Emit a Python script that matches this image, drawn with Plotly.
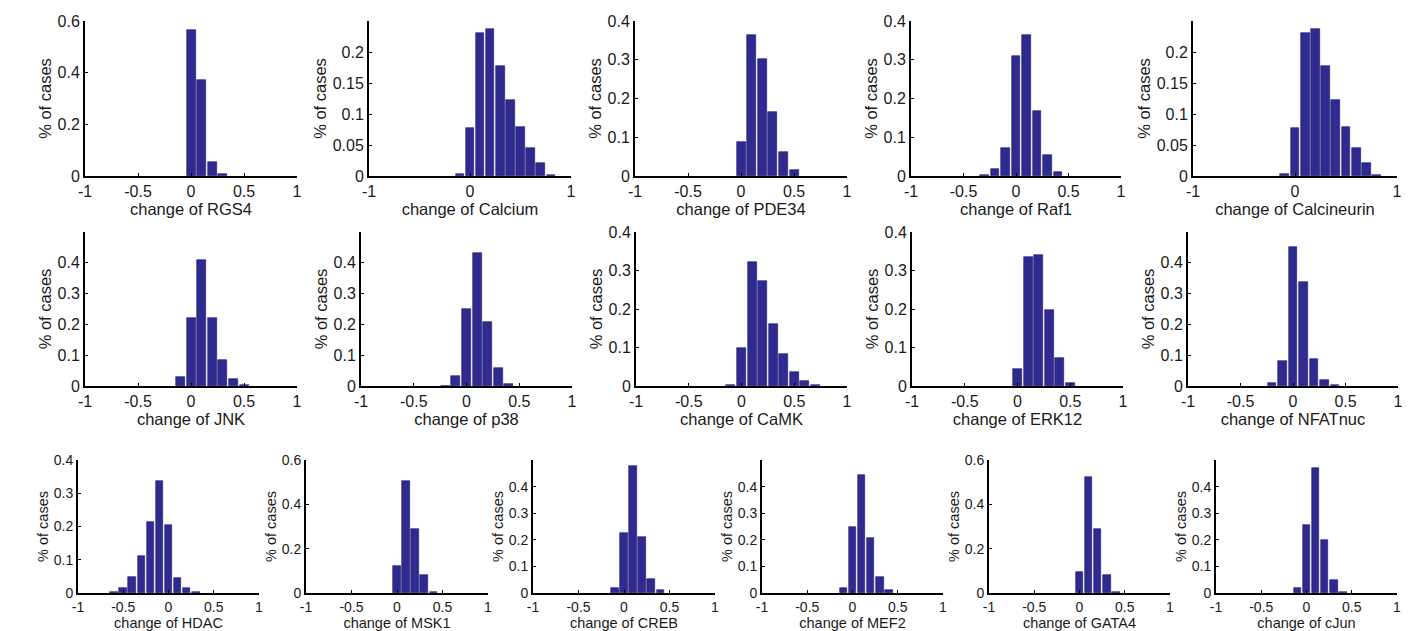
import plotly.graph_objects as go

W, H = 1427, 631

# ---- data: bin centres and fractions per panel ----
names = ["RGS4", "Calcium", "PDE34", "Raf1", "Calcineurin",
         "JNK", "p38", "CaMK", "ERK12", "NFATnuc",
         "HDAC", "MSK1", "CREB", "MEF2", "GATA4", "cJun"]

rgs4_x = [0.0, 0.1, 0.2, 0.3]
rgs4_y = [0.565, 0.37, 0.055, 0.008]
calcium_x = [-0.1, 0.0, 0.1, 0.2, 0.3, 0.4, 0.5, 0.6, 0.7, 0.8]
calcium_y = [0.004, 0.077, 0.231, 0.237, 0.178, 0.123, 0.079, 0.045, 0.021, 0.002]
pde34_x = [0.0, 0.1, 0.2, 0.3, 0.4, 0.5]
pde34_y = [0.087, 0.365, 0.302, 0.165, 0.063, 0.015]
raf1_x = [-0.3, -0.2, -0.1, 0.0, 0.1, 0.2, 0.3, 0.4]
raf1_y = [0.003, 0.017, 0.072, 0.31, 0.365, 0.167, 0.053, 0.011]
calcineurin_x = [-0.1, 0.0, 0.1, 0.2, 0.3, 0.4, 0.5, 0.6, 0.7, 0.8]
calcineurin_y = [0.004, 0.077, 0.231, 0.237, 0.178, 0.123, 0.079, 0.045, 0.021, 0.002]
jnk_x = [-0.1, 0.0, 0.1, 0.2, 0.3, 0.4, 0.5]
jnk_y = [0.028, 0.222, 0.41, 0.222, 0.083, 0.022, 0.003]
p38_x = [-0.2, -0.1, 0.0, 0.1, 0.2, 0.3, 0.4]
p38_y = [0.001, 0.033, 0.25, 0.433, 0.208, 0.06, 0.006]
camk_x = [-0.1, 0.0, 0.1, 0.2, 0.3, 0.4, 0.5, 0.6, 0.7]
camk_y = [0.002, 0.1, 0.323, 0.272, 0.16, 0.082, 0.036, 0.013, 0.002]
erk12_x = [0.0, 0.1, 0.2, 0.3, 0.4, 0.5]
erk12_y = [0.045, 0.335, 0.34, 0.197, 0.074, 0.007]
nfatnuc_x = [-0.2, -0.1, 0.0, 0.1, 0.2, 0.3, 0.4]
nfatnuc_y = [0.009, 0.08, 0.45, 0.337, 0.088, 0.021, 0.003]
hdac_x = [-0.6, -0.5, -0.4, -0.3, -0.2, -0.1, 0.0, 0.1, 0.2, 0.3]
hdac_y = [0.002, 0.016, 0.048, 0.11, 0.213, 0.337, 0.205, 0.046, 0.014, 0.003]
msk1_x = [0.0, 0.1, 0.2, 0.3, 0.4]
msk1_y = [0.12, 0.505, 0.29, 0.08, 0.004]
creb_x = [-0.1, 0.0, 0.1, 0.2, 0.3, 0.4]
creb_y = [0.018, 0.227, 0.478, 0.21, 0.051, 0.011]
mef2_x = [-0.1, 0.0, 0.1, 0.2, 0.3, 0.4]
mef2_y = [0.02, 0.25, 0.443, 0.205, 0.06, 0.011]
gata4_x = [0.0, 0.1, 0.2, 0.3, 0.4]
gata4_y = [0.095, 0.525, 0.29, 0.08, 0.005]
cjun_x = [-0.1, 0.0, 0.1, 0.2, 0.3, 0.4]
cjun_y = [0.02, 0.255, 0.47, 0.2, 0.05, 0.005]

xs = [rgs4_x, calcium_x, pde34_x, raf1_x, calcineurin_x, jnk_x, p38_x, camk_x,
      erk12_x, nfatnuc_x, hdac_x, msk1_x, creb_x, mef2_x, gata4_x, cjun_x]
ys = [rgs4_y, calcium_y, pde34_y, raf1_y, calcineurin_y, jnk_y, p38_y, camk_y,
      erk12_y, nfatnuc_y, hdac_y, msk1_y, creb_y, mef2_y, gata4_y, cjun_y]

y_tops = [0.6, 0.25, 0.4, 0.4, 0.25, 0.5, 0.5, 0.4, 0.4, 0.5,
          0.4, 0.6, 0.5, 0.5, 0.6, 0.5]
y_ticks = {
    0.6: [0, 0.2, 0.4, 0.6],
    0.25: [0, 0.05, 0.1, 0.15, 0.2],
    0.4: [0, 0.1, 0.2, 0.3, 0.4],
    0.5: [0, 0.1, 0.2, 0.3, 0.4],
}
x_full = [-1, -0.5, 0, 0.5, 1]
x_short = [-1, 0, 1]

# ---- layout (pixel boxes in the page: left, right, top, bottom) ----
boxes = [
    (85, 297, 21, 176), (369, 571, 21, 176), (635, 847, 21, 176),
    (911, 1121, 21, 176), (1193, 1397, 21, 176),
    (85, 297, 232, 386), (361, 572, 232, 386), (636, 847, 232, 386),
    (912, 1123, 232, 386), (1188, 1398, 232, 386),
    (78, 259, 460, 593), (306, 488, 460, 593), (533, 715, 460, 593),
    (762, 943, 460, 593), (989, 1170, 460, 593), (1216, 1397, 460, 593),
]

BAR = "#2f2a8f"
TXT = "#1a1a1a"
FONT = "Liberation Sans, Arial, sans-serif"


def px(x):
    return x / W


def py(y):
    return 1 - y / H


fig = go.Figure()
layout = {}
for i, (name, bx, by, top, box) in enumerate(zip(names, xs, ys, y_tops, boxes)):
    k = "" if i == 0 else str(i + 1)
    small = i >= 10
    tick_sz = 14 if small else 16
    title_sz = 14.5 if small else 16.5
    fig.add_trace(go.Bar(
        x=bx, y=by, width=0.085,
        marker=dict(color=BAR, line=dict(color="#1c1870", width=0.6)),
        xaxis="x" + k, yaxis="y" + k, showlegend=False,
        hoverinfo="x+y",
    ))
    l, r, t, b = box
    xt = x_short if name in ("Calcium", "Calcineurin") else x_full
    layout["xaxis" + k] = dict(
        domain=[px(l), px(r)], anchor="y" + k, range=[-1, 1],
        automargin=False,
        tickvals=xt, ticktext=[("%g" % v) for v in xt],
        showline=True, linecolor="black", linewidth=2,
        ticks="inside", ticklen=3, tickcolor="black",
        showgrid=False, zeroline=False,
        tickfont=dict(family=FONT, size=tick_sz, color=TXT),
        title=dict(text="change of " + name, standoff=8 if small else 0,
                   font=dict(family=FONT, size=title_sz, color=TXT)),
    )
    yt = y_ticks[top]
    layout["yaxis" + k] = dict(
        domain=[py(b), py(t)], anchor="x" + k, range=[0, top],
        automargin=False,
        tickvals=yt, ticktext=[("%g" % v) for v in yt],
        showline=True, linecolor="black", linewidth=2,
        ticks="inside", ticklen=3, tickcolor="black",
        showgrid=False, zeroline=False,
        tickfont=dict(family=FONT, size=tick_sz, color=TXT),
        title=dict(text="% of cases", standoff=2,
                   font=dict(family=FONT, size=title_sz, color=TXT)),
    )

fig.update_layout(
    width=W, height=H,
    margin=dict(l=0, r=0, t=0, b=0),
    paper_bgcolor="white", plot_bgcolor="white",
    bargap=0, **layout,
)
fig.write_html("out.html",
               config={"displayModeBar": False},
               post_script="document.body.style.margin='0';"
                           "document.body.style.overflow='hidden';")
